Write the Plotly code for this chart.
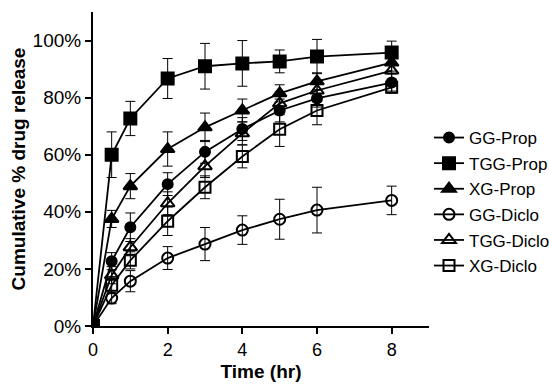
import plotly.graph_objects as go

time_hr = [0, 0.5, 1, 2, 3, 4, 5, 6, 8]

gg_prop = [0, 22.7, 34.6, 49.7, 61.0, 69.0, 75.5, 79.7, 85.3]
gg_prop_err = [0, 3, 5, 4, 4, 4, 4, 3, 3]
tgg_prop = [0, 60.0, 72.7, 86.7, 91.0, 92.0, 92.7, 94.4, 95.8]
tgg_prop_err = [0, 8, 6, 7, 8, 8, 4, 6, 4]
xg_prop = [0, 37.5, 49.0, 62.0, 69.6, 75.5, 81.5, 85.7, 92.3]
xg_prop_err = [0, 3, 4.4, 6, 5, 4, 3, 3, 3]
gg_diclo = [0, 9.8, 15.7, 23.8, 28.7, 33.6, 37.4, 40.6, 44.0]
gg_diclo_err = [0, 2, 3.7, 4, 5.8, 5, 7, 8, 5]
tgg_diclo = [0, 17.8, 27.6, 43.0, 56.0, 67.5, 78.0, 82.5, 89.5]
tgg_diclo_err = [0, 3, 3, 4, 4, 4, 4, 3, 3]
xg_diclo = [0, 14.3, 23.0, 36.7, 48.6, 59.4, 68.9, 75.5, 83.6]
xg_diclo_err = [0, 3, 3, 5, 4, 4, 6, 5, 2]

y_tick_vals = [0, 20, 40, 60, 80, 100]
y_tick_text = ["0%", "20%", "40%", "60%", "80%", "100%"]
x_tick_vals = [0, 2, 4, 6, 8]

series = [
    ("GG-Prop", gg_prop, gg_prop_err, "circle", 10),
    ("TGG-Prop", tgg_prop, tgg_prop_err, "square", 12),
    ("XG-Prop", xg_prop, xg_prop_err, "triangle-up", 12),
    ("GG-Diclo", gg_diclo, gg_diclo_err, "circle-open", 11),
    ("TGG-Diclo", tgg_diclo, tgg_diclo_err, "triangle-up-open", 12),
    ("XG-Diclo", xg_diclo, xg_diclo_err, "square-open", 11),
]

fig = go.Figure()
for i, (name, vals, errs, sym, sz) in enumerate(series):
    fig.add_trace(go.Scatter(
        x=time_hr, y=vals, name=name, mode="lines+markers",
        line=dict(color="black", width=1.8),
        marker=dict(symbol=sym, size=sz, color="black",
                    line=dict(color="black", width=2)),
        error_y=dict(type="data", array=errs, visible=True,
                     color="black", thickness=1, width=5),
        legendgroup=f"g{i}",
    ))

L, R, T, B, W, H = 93, 118, 12, 66, 549, 392

font_family = "Liberation Sans, Arial, sans-serif"
fig.update_layout(
    width=W, height=H,
    margin=dict(l=L, r=R, t=T, b=B),
    paper_bgcolor="white", plot_bgcolor="white",
    font=dict(family=font_family, color="black", size=17),
    showlegend=True,
    legend=dict(xref="container", yref="container",
                x=429 / W, xanchor="left", y=1 - 202 / H, yanchor="middle",
                font=dict(size=17), tracegroupgap=0.5,
                bgcolor="rgba(0,0,0,0)", itemwidth=30),
    xaxis=dict(range=[0, 9], tickvals=x_tick_vals, showgrid=False,
               zeroline=False, showline=True, linecolor="black", linewidth=2,
               ticks="outside", ticklen=6, tickwidth=1.5, tickcolor="black",
               tickfont=dict(size=18), automargin=False,
               title=dict(text="<b>Time (hr)</b>", font=dict(size=19), standoff=6)),
    yaxis=dict(range=[0, 110], tickvals=y_tick_vals, ticktext=y_tick_text,
               tickmode="array",
               showgrid=False, zeroline=False, showline=True, linecolor="black",
               linewidth=2, ticks="outside", ticklen=6, tickwidth=1.5,
               tickcolor="black", tickfont=dict(size=19), automargin=False,
               title=dict(text="<b>Cumulative % drug release</b>", font=dict(size=19), standoff=2)),
)

fig.write_html("out.html", config={"displayModeBar": False},
               post_script="document.body.style.margin='0px';")
